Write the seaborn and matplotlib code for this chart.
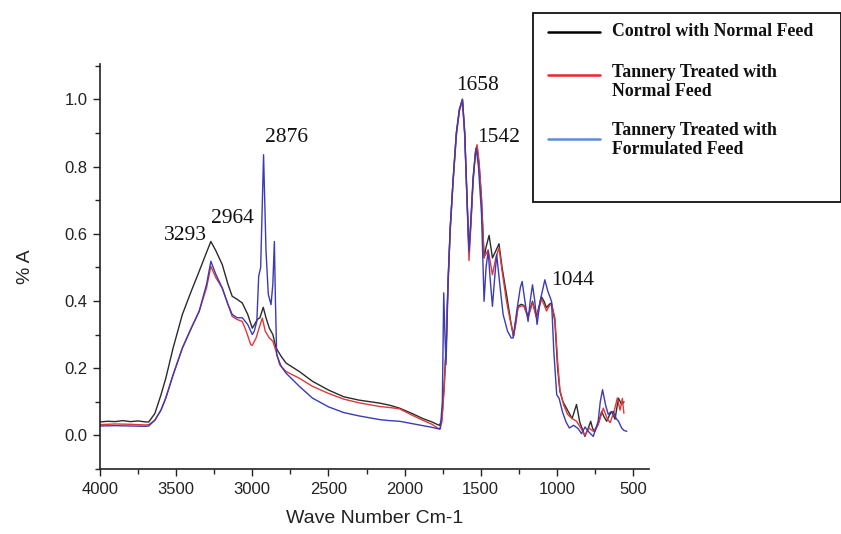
import numpy as np
import pandas as pd
import matplotlib
matplotlib.use("Agg")
import matplotlib.pyplot as plt
from matplotlib.lines import Line2D
from matplotlib.patches import Rectangle
from matplotlib.ticker import MultipleLocator
import seaborn as sns

# ---------------- data ----------------
series_names = ["Control with Normal Feed",
                "Tannery Treated with\nNormal Feed",
                "Tannery Treated with\nFormulated Feed"]

control_wn = [4000, 3950, 3900, 3850, 3800, 3750, 3700, 3680, 3640, 3600, 3568, 3520, 3459, 3400,
              3349, 3300, 3272, 3240, 3197, 3160, 3132, 3100, 3066, 3030, 3000, 2985, 2967, 2950,
              2928, 2910, 2888, 2865, 2844, 2810, 2778, 2691, 2605, 2500, 2400, 2300, 2164, 2100,
              2033, 1950, 1880, 1820, 1783, 1770, 1755, 1740, 1726, 1715, 1700, 1682, 1660, 1640,
              1620, 1605, 1594, 1577, 1565, 1550, 1535, 1524, 1510, 1495, 1478, 1465, 1445, 1423,
              1400, 1380, 1360, 1331, 1310, 1300, 1285, 1270, 1255, 1235, 1217, 1189, 1160, 1134,
              1101, 1085, 1068, 1050, 1035, 1013, 995, 980, 960, 937, 900, 871, 850, 816, 795, 778,
              765, 750, 725, 706, 690, 673, 655, 640, 618, 596, 575, 559]
control_abs = [0.040, 0.042, 0.041, 0.044, 0.041, 0.043, 0.040, 0.040, 0.065, 0.12, 0.17, 0.26, 0.36, 0.43,
               0.488, 0.545, 0.577, 0.55, 0.508, 0.45, 0.414, 0.405, 0.394, 0.36, 0.319, 0.33, 0.345, 0.35,
               0.381, 0.35, 0.319, 0.30, 0.26, 0.235, 0.215, 0.19, 0.161, 0.135, 0.115, 0.105, 0.096, 0.09,
               0.081, 0.065, 0.05, 0.040, 0.032, 0.030, 0.05, 0.15, 0.28, 0.458, 0.62, 0.756, 0.90, 0.97,
               1.0, 0.90, 0.756, 0.548, 0.63, 0.756, 0.84, 0.86, 0.80, 0.706, 0.528, 0.56, 0.595, 0.528,
               0.55, 0.57, 0.50, 0.42, 0.36, 0.33, 0.295, 0.34, 0.384, 0.39, 0.387, 0.354, 0.399, 0.354,
               0.412, 0.40, 0.38, 0.39, 0.394, 0.339, 0.20, 0.131, 0.10, 0.081, 0.05, 0.092, 0.04, -0.003, 0.02, 0.042,
               0.02, 0.012, 0.04, 0.071, 0.055, 0.042, 0.06, 0.071, 0.048, 0.111, 0.092, 0.10]

tannery_normal_wn = [4000, 3900, 3800, 3700, 3680, 3640, 3600, 3568, 3520, 3459, 3400, 3349, 3300, 3272,
                     3240, 3197, 3160, 3132, 3100, 3066, 3040, 3010, 3000, 2975, 2955, 2934, 2915, 2888,
                     2865, 2844, 2820, 2778, 2691, 2605, 2500, 2400, 2300, 2164, 2100, 2033, 1950, 1880,
                     1820, 1783, 1770, 1755, 1740, 1726, 1715, 1700, 1682, 1660, 1640, 1620, 1605, 1594,
                     1577, 1565, 1550, 1535, 1524, 1510, 1495, 1478, 1465, 1451, 1423, 1400, 1380, 1360,
                     1331, 1310, 1290, 1285, 1270, 1255, 1235, 1217, 1189, 1160, 1134, 1101, 1085, 1068,
                     1050, 1035, 1013, 995, 980, 955, 930, 900, 871, 840, 816, 790, 760, 730, 695, 670,
                     650, 625, 603, 585, 570, 560]
tannery_normal_abs = [0.032, 0.034, 0.033, 0.031, 0.032, 0.045, 0.075, 0.111, 0.18, 0.26, 0.32, 0.369, 0.44, 0.503,
                      0.47, 0.438, 0.39, 0.354, 0.345, 0.339, 0.31, 0.27, 0.268, 0.29, 0.32, 0.349, 0.31, 0.29,
                      0.28, 0.25, 0.21, 0.19, 0.17, 0.146, 0.125, 0.108, 0.097, 0.086, 0.083, 0.079, 0.06, 0.045,
                      0.033, 0.022, 0.018, 0.04, 0.14, 0.27, 0.45, 0.61, 0.75, 0.89, 0.965, 0.995, 0.89, 0.75,
                      0.52, 0.62, 0.76, 0.845, 0.865, 0.81, 0.70, 0.53, 0.54, 0.552, 0.478, 0.53, 0.558, 0.49,
                      0.40, 0.35, 0.31, 0.295, 0.33, 0.38, 0.385, 0.385, 0.35, 0.395, 0.35, 0.405, 0.39, 0.37,
                      0.385, 0.39, 0.35, 0.22, 0.135, 0.09, 0.063, 0.05, 0.042, 0.02, 0.0, 0.022, 0.012, 0.03, 0.081, 0.05,
                      0.038, 0.07, 0.111, 0.075, 0.11, 0.066]

tannery_formulated_wn = [4000, 3900, 3800, 3700, 3680, 3640, 3600, 3568, 3520, 3459, 3400, 3349, 3300, 3272,
                         3240, 3197, 3160, 3132, 3100, 3066, 3030, 3000, 2987, 2970, 2958, 2945, 2926, 2910,
                         2895, 2877, 2865, 2855, 2848, 2840, 2810, 2778, 2691, 2605, 2500, 2400, 2300, 2164,
                         2100, 2033, 1950, 1880, 1820, 1783, 1765, 1752, 1743, 1735, 1728, 1715, 1700, 1682,
                         1660, 1640, 1620, 1605, 1594, 1577, 1565, 1550, 1530, 1515, 1495, 1478, 1465, 1451,
                         1437, 1423, 1410, 1395, 1375, 1353, 1324, 1300, 1287, 1260, 1240, 1228, 1210, 1189,
                         1175, 1160, 1145, 1130, 1110, 1090, 1079, 1060, 1035, 1020, 1001, 985, 964, 940, 918,
                         890, 860, 838, 815, 790, 761, 745, 729, 715, 700, 680, 663, 645, 630, 610, 595, 575,
                         560, 541]
tannery_formulated_abs = [0.028, 0.029, 0.028, 0.027, 0.028, 0.045, 0.075, 0.111, 0.18, 0.26, 0.32, 0.369, 0.45, 0.518,
                          0.48, 0.438, 0.39, 0.36, 0.35, 0.35, 0.33, 0.30, 0.31, 0.34, 0.473, 0.50, 0.835, 0.55,
                          0.42, 0.389, 0.45, 0.577, 0.40, 0.24, 0.205, 0.185, 0.146, 0.111, 0.085, 0.068, 0.058, 0.047,
                          0.044, 0.042, 0.035, 0.029, 0.024, 0.02, 0.02, 0.10, 0.424, 0.30, 0.21, 0.44, 0.62, 0.756,
                          0.90, 0.97, 1.0, 0.90, 0.756, 0.548, 0.64, 0.77, 0.855, 0.80, 0.66, 0.399, 0.50, 0.548,
                          0.46, 0.384, 0.46, 0.538, 0.45, 0.36, 0.31, 0.29, 0.29, 0.38, 0.44, 0.458, 0.40, 0.339,
                          0.40, 0.448, 0.40, 0.33, 0.40, 0.44, 0.463, 0.43, 0.399, 0.25, 0.121, 0.11, 0.071, 0.04, 0.022,
                          0.03, 0.02, 0.005, 0.025, 0.01, -0.003, 0.02, 0.042, 0.10, 0.136, 0.09, 0.063, 0.07, 0.071, 0.05, 0.042, 0.022,
                          0.015, 0.012]

peak_labels = ["3293", "2964", "2876", "1658", "1542", "1044"]
peak_label_x = [3437, 3132, 2778, 1523, 1385, 898]
peak_label_y = [0.595, 0.646, 0.887, 1.040, 0.885, 0.460]

line_colors = ["#2b2b2b", "#e0383a", "#3b3bb5"]
legend_colors = ["#000000", "#e8262b", "#5b8dd6"]

# ---------------- build frame ----------------
frames = []
for name, wn, ab in zip(series_names,
                        [control_wn, tannery_normal_wn, tannery_formulated_wn],
                        [control_abs, tannery_normal_abs, tannery_formulated_abs]):
    frames.append(pd.DataFrame({"wn": wn, "abs": ab, "series": name}))
df = pd.concat(frames, ignore_index=True)

sns.set_style("ticks")
plt.rcParams["font.family"] = ["Liberation Sans", "DejaVu Sans"]

fig = plt.figure(figsize=(8.41, 5.34), dpi=100)
ax = fig.add_axes([100 / 841, 1 - 469 / 534, 549 / 841, 405 / 534])

sns.lineplot(data=df, x="wn", y="abs", hue="series", hue_order=series_names,
             palette=line_colors, sort=False, estimator=None, units="series",
             linewidth=1.0, legend=False, ax=ax)

ax.set_xlim(4000, 395)
ax.set_ylim(-0.1, 1.105)
ax.xaxis.set_major_locator(MultipleLocator(500))
ax.xaxis.set_minor_locator(MultipleLocator(250))
ax.yaxis.set_minor_locator(MultipleLocator(0.1))
ax.set_yticks([0.0, 0.2, 0.4, 0.6, 0.8, 1.0])
ax.set_yticklabels(["0.0", "0.2", "0.4", "0.6", "0.8", "1.0"])
ax.tick_params(axis="both", which="major", length=5, width=1.0, labelsize=12, colors="#222222",
               direction="out", pad=4)
ax.tick_params(axis="both", which="minor", length=3.5, width=1.0, direction="out")
sns.despine(ax=ax)
for s in ["left", "bottom"]:
    ax.spines[s].set_linewidth(1.2)
    ax.spines[s].set_color("#222222")

ax.set_xlabel("Wave Number Cm-1", fontsize=14, color="#222222", labelpad=10)
ax.set_ylabel("% A", fontsize=14, color="#222222", labelpad=22)

for t, x, y in zip(peak_labels, peak_label_x, peak_label_y):
    ax.text(x, y, t, ha="center", va="center", fontsize=15.5,
            family=["Liberation Serif", "DejaVu Serif"], color="#111111")

# ---------------- legend box ----------------
W, H = 841, 534
fig.add_artist(Rectangle((533 / W, 1 - 201.7 / H), (841 - 533) / W, 189 / H,
                         transform=fig.transFigure, fill=False, edgecolor="#111111",
                         linewidth=1.3, clip_on=False))
leg_line_y = [32, 75, 139]
leg_text_y = [32, 82, 140]
for name, c, ly, ty in zip(series_names, legend_colors, leg_line_y, leg_text_y):
    fig.add_artist(Line2D([548 / W, 600 / W], [1 - ly / H, 1 - ly / H],
                          transform=fig.transFigure, color=c, linewidth=1.8))
    fig.text(612 / W, 1 - ty / H, name, ha="left", va="center", fontsize=12.8,
             fontweight="bold", family=["Liberation Serif", "DejaVu Serif"],
             linespacing=1.2, color="#111111")

fig.savefig("out.png", dpi=100)
